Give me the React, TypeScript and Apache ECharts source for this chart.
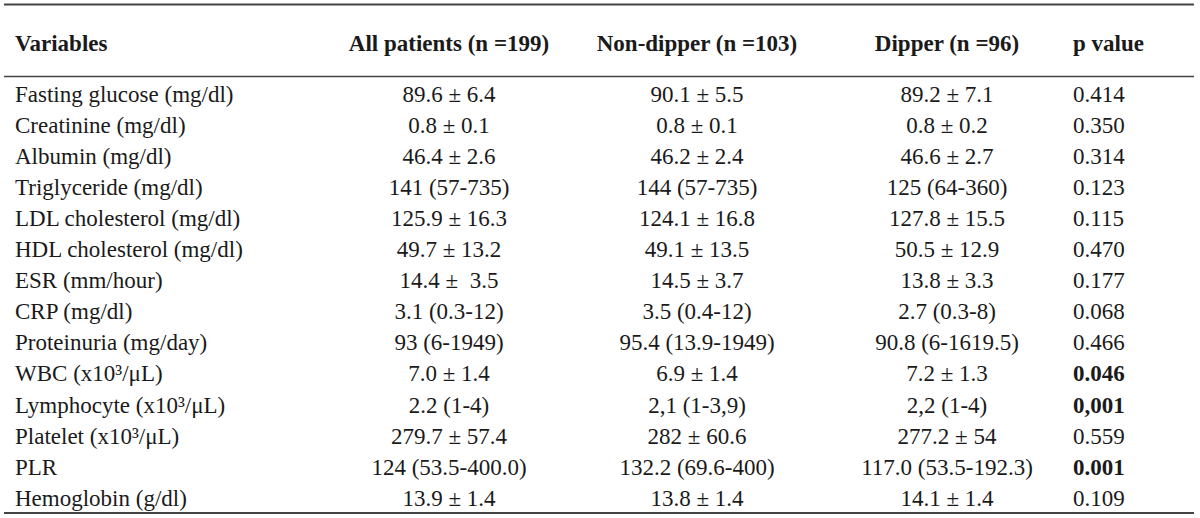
import React, { useEffect, useRef } from "react";
import * as echarts from "echarts";

const headers = ["Variables", "All patients (n =199)", "Non-dipper (n =103)", "Dipper (n =96)", "p value"];

const variables = [
  "Fasting glucose (mg/dl)",
  "Creatinine (mg/dl)",
  "Albumin (mg/dl)",
  "Triglyceride (mg/dl)",
  "LDL cholesterol (mg/dl)",
  "HDL cholesterol (mg/dl)",
  "ESR (mm/hour)",
  "CRP (mg/dl)",
  "Proteinuria (mg/day)",
  "WBC (x10³/μL)",
  "Lymphocyte (x10³/μL)",
  "Platelet (x10³/μL)",
  "PLR",
  "Hemoglobin (g/dl)",
];

const allPatients = [
  "89.6 ± 6.4",
  "0.8 ± 0.1",
  "46.4 ± 2.6",
  "141 (57-735)",
  "125.9 ± 16.3",
  "49.7 ± 13.2",
  "14.4 ±  3.5",
  "3.1 (0.3-12)",
  "93 (6-1949)",
  "7.0 ± 1.4",
  "2.2 (1-4)",
  "279.7 ± 57.4",
  "124 (53.5-400.0)",
  "13.9 ± 1.4",
];

const nonDipper = [
  "90.1 ± 5.5",
  "0.8 ± 0.1",
  "46.2 ± 2.4",
  "144 (57-735)",
  "124.1 ± 16.8",
  "49.1 ± 13.5",
  "14.5 ± 3.7",
  "3.5 (0.4-12)",
  "95.4 (13.9-1949)",
  "6.9 ± 1.4",
  "2,1 (1-3,9)",
  "282 ± 60.6",
  "132.2 (69.6-400)",
  "13.8 ± 1.4",
];

const dipper = [
  "89.2 ± 7.1",
  "0.8 ± 0.2",
  "46.6 ± 2.7",
  "125 (64-360)",
  "127.8 ± 15.5",
  "50.5 ± 12.9",
  "13.8 ± 3.3",
  "2.7 (0.3-8)",
  "90.8 (6-1619.5)",
  "7.2 ± 1.3",
  "2,2 (1-4)",
  "277.2 ± 54",
  "117.0 (53.5-192.3)",
  "14.1 ± 1.4",
];

const pValues = ["0.414", "0.350", "0.314", "0.123", "0.115", "0.470", "0.177", "0.068", "0.466", "0.046", "0,001", "0.559", "0.001", "0.109"];
const significant = [false, false, false, false, false, false, false, false, false, true, true, false, true, false];

export default function App() {
  const ref = useRef<HTMLDivElement>(null);
  useEffect(() => {
    if (!ref.current) return;
    const chart = echarts.init(ref.current, undefined, { renderer: "svg" });
    const family = "Liberation Serif";
    const fs = 23;
    const color = "#1a1a1a";
    const lineColor = "#444";
    const colX = [15, 449, 697, 947, 1073];
    const colAlign = ["left", "center", "center", "center", "left"];
    const headerY = 43;
    const rowY0 = 94;
    const rowH = 31.1;
    const elements: any[] = [];
    elements.push({ type: "line", shape: { x1: 4, y1: 4.5, x2: 1194, y2: 4.5 }, style: { stroke: lineColor, lineWidth: 2 } });
    elements.push({ type: "line", shape: { x1: 4, y1: 76.5, x2: 1194, y2: 76.5 }, style: { stroke: lineColor, lineWidth: 1.5 } });
    elements.push({ type: "line", shape: { x1: 4, y1: 513, x2: 1194, y2: 513 }, style: { stroke: lineColor, lineWidth: 2 } });
    headers.forEach((h, i) => {
      elements.push({
        type: "text",
        x: colX[i],
        y: headerY,
        style: {
          text: h,
          fontFamily: family,
          fontSize: fs,
          fontWeight: "bold",
          fill: color,
          align: colAlign[i],
          verticalAlign: "middle",
        },
      });
    });
    const cols = [variables, allPatients, nonDipper, dipper, pValues];
    variables.forEach((_, r) => {
      cols.forEach((col, c) => {
        const bold = c === 4 && significant[r];
        elements.push({
          type: "text",
          x: colX[c],
          y: rowY0 + r * rowH,
          style: {
            text: col[r],
            fontFamily: family,
            fontSize: fs,
            fontWeight: bold ? "bold" : "normal",
            fill: color,
            align: colAlign[c],
            verticalAlign: "middle",
          },
        });
      });
    });
    chart.setOption({ animation: false, backgroundColor: "#fff", graphic: { elements } });
    return () => chart.dispose();
  }, []);
  return <div ref={ref} style={{ position: "fixed", left: 0, top: 0, width: 1200, height: 518 }} />;
}
